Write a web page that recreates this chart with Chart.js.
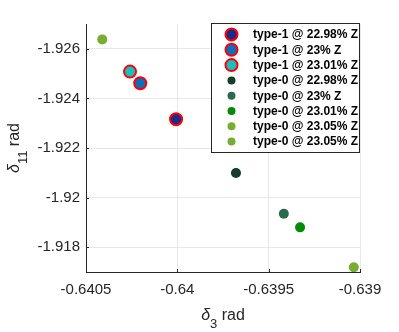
<!DOCTYPE html>
<html><head><meta charset="utf-8">
<script src="https://cdn.jsdelivr.net/npm/chart.js@4/dist/chart.umd.min.js"></script>
<style>html,body{margin:0;padding:0;background:#fff;}#wrap{position:relative;width:399px;height:332px;}</style>
</head><body><div id="wrap"><canvas id="c" width="399" height="332"></canvas></div>
<script>
// ---- data ----
const seriesLabels = [
  'type-1 @ 22.98% Z', 'type-1 @ 23% Z', 'type-1 @ 23.01% Z',
  'type-0 @ 22.98% Z', 'type-0 @ 23% Z', 'type-0 @ 23.01% Z',
  'type-0 @ 23.05% Z', 'type-0 @ 23.05% Z'
];
const seriesType = [1, 1, 1, 0, 0, 0, 0, 0];
const seriesX = [-0.640007, -0.640203, -0.640259, -0.639679, -0.639417, -0.639328, -0.640411, -0.639034];
const seriesY = [-1.92316, -1.92461, -1.92508, -1.92099, -1.91935, -1.91880, -1.92638, -1.91719];
const fillColors = ['#1c2a8c', '#0b6fbf', '#17bfbf', '#163d2a', '#2c6a4e', '#078a07', '#78ad32', '#78ad32'];
const xTicks = [-0.6405, -0.64, -0.6395, -0.639];
const xTickLabels = ['-0.6405', '-0.64', '-0.6395', '-0.639'];
const yTicks = [-1.926, -1.924, -1.922, -1.92, -1.918];
const yTickLabels = ['-1.926', '-1.924', '-1.922', '-1.92', '-1.918'];
const xRange = [-0.6405, -0.639];
const yRange = [-1.927, -1.917];

const FONT = "'Liberation Sans', Arial, Helvetica, sans-serif";
const TXT = '#262626';

const datasets = seriesLabels.map((lab, i) => ({
  label: lab,
  data: [{x: seriesX[i], y: seriesY[i]}],
  backgroundColor: fillColors[i],
  borderColor: seriesType[i] === 1 ? '#ff0000' : fillColors[i],
  borderWidth: seriesType[i] === 1 ? 2 : 0,
  pointRadius: seriesType[i] === 1 ? 6 : 5,
  pointHoverRadius: seriesType[i] === 1 ? 6 : 5
}));

const decorPlugin = {
  id: 'decor',
  afterDraw(chart) {
    const ctx = chart.ctx;
    const a = chart.chartArea;
    const xs = chart.scales.x, ys = chart.scales.y;
    ctx.save();
    // inward ticks
    ctx.strokeStyle = TXT; ctx.lineWidth = 1;
    xTicks.forEach(v => {
      const px = Math.round(xs.getPixelForValue(v)) + 0.5;
      ctx.beginPath(); ctx.moveTo(px, a.bottom); ctx.lineTo(px, a.bottom - 3); ctx.stroke();
    });
    yTicks.forEach(v => {
      const py = Math.round(ys.getPixelForValue(v)) + 0.5;
      ctx.beginPath(); ctx.moveTo(a.left, py); ctx.lineTo(a.left + 3, py); ctx.stroke();
    });
    // axis titles
    ctx.fillStyle = TXT;
    ctx.textBaseline = 'alphabetic';
    ctx.textAlign = 'left';
    const mainF = '16px ' + FONT, greekF = 'italic 16px ' + FONT, subF = '13px ' + FONT;
    function drawTitle(sub, cx, baseY) {
      ctx.font = greekF; const w1 = ctx.measureText('δ').width;
      ctx.font = subF; const w2 = ctx.measureText(sub).width;
      ctx.font = mainF; const w3 = ctx.measureText(' rad').width;
      let x = cx - (w1 + w2 + w3) / 2;
      ctx.font = greekF; ctx.fillText('δ', x, baseY); x += w1;
      ctx.font = subF; ctx.fillText(sub, x, baseY + 8); x += w2;
      ctx.font = mainF; ctx.fillText(' rad', x, baseY);
    }
    drawTitle('3', (a.left + a.right) / 2, 320);
    ctx.save();
    ctx.translate(19, (a.top + a.bottom) / 2);
    ctx.rotate(-Math.PI / 2);
    drawTitle('11', 0, 0);
    ctx.restore();
    // legend box
    const lx = 211, ly = 23, lw = 148, lh = 129;
    ctx.fillStyle = '#ffffff';
    ctx.fillRect(lx, ly, lw, lh);
    ctx.strokeStyle = '#262626'; ctx.lineWidth = 1;
    ctx.strokeRect(lx + 0.5, ly + 0.5, lw, lh);
    ctx.font = 'bold 12px ' + FONT;
    ctx.textBaseline = 'middle';
    chart.data.datasets.forEach((ds, i) => {
      const cy = ly + 11.5 + i * 15.3;
      const mx = 231.5;
      ctx.beginPath();
      const r = seriesType[i] === 1 ? 6 : 4;
      ctx.arc(mx, cy, r, 0, Math.PI * 2);
      ctx.fillStyle = ds.backgroundColor; ctx.fill();
      if (seriesType[i] === 1) { ctx.lineWidth = 2; ctx.strokeStyle = '#ff0000'; ctx.stroke(); }
      ctx.fillStyle = '#000000';
      ctx.fillText(ds.label, 253, cy + 0.5);
    });
    ctx.restore();
  }
};

new Chart(document.getElementById('c'), {
  type: 'scatter',
  data: { datasets },
  options: {
    responsive: false,
    animation: false,
    devicePixelRatio: 1,
    layout: { padding: { left: 0, top: 24, right: 39, bottom: 0 } },
    plugins: { legend: { display: false }, tooltip: { enabled: false } },
    scales: {
      x: {
        type: 'linear', min: xRange[0], max: xRange[1],
        afterBuildTicks: s => { s.ticks = xTicks.map(v => ({ value: v })); },
        afterFit: s => { s.height = 60; },
        ticks: { callback: (v, i) => xTickLabels[i], color: TXT, font: { family: FONT, size: 15 }, padding: 9, maxRotation: 0, autoSkip: false },
        grid: { color: '#e8e8e8', drawTicks: false, lineWidth: 1 },
        border: { color: TXT, width: 1 }
      },
      y: {
        type: 'linear', min: yRange[0], max: yRange[1], reverse: true,
        afterBuildTicks: s => { s.ticks = yTicks.map(v => ({ value: v })); },
        afterFit: s => { s.width = 86; },
        ticks: { callback: (v, i) => yTickLabels[i], color: TXT, font: { family: FONT, size: 15 }, padding: 6, autoSkip: false },
        grid: { color: '#e8e8e8', drawTicks: false, lineWidth: 1 },
        border: { color: TXT, width: 1 }
      }
    }
  },
  plugins: [decorPlugin]
});
</script></body></html>
